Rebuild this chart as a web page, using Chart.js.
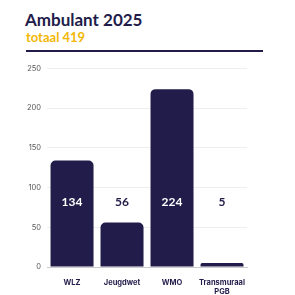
<html lang="en">
<head>
    <meta charset="UTF-8">
    <title>Ambulant 2025</title>
    <script src="https://cdn.jsdelivr.net/npm/chart.js@4"></script>
    <style>
        body { margin: 0; width: 295px; height: 295px; background: #fff; position: relative; font-family: Lato, sans-serif; overflow: hidden; }
        #title { position: absolute; left: 25px; top: 9px; font-size: 17px; font-weight: 700; color: #221c4a; }
        #sub { position: absolute; left: 26px; top: 29px; font-size: 13px; font-weight: 700; color: #f2b705; }
        #rule { position: absolute; left: 26px; top: 50px; width: 237px; height: 2px; background: #221c4a; }
        #wrap { position: absolute; left: 21px; top: 58px; width: 227px; height: 241px; }
    </style>
</head>
<body>
    <div id="title">Ambulant 2025</div>
    <div id="sub">totaal 419</div>
    <div id="rule"></div>
    <div id="wrap"><canvas id="graph"></canvas></div>

    <script>
        const categories = ['WLZ', 'Jeugdwet', 'WMO', ['Transmuraal', 'PGB']];
        const counts = [134, 56, 224, 5];
        const yTicks = [0, 50, 100, 150, 200, 250];

        const navy = '#221c4a';

        // value labels, all on the same height
        const valueLabels = {
            id: 'valueLabels',
            afterDatasetsDraw(chart) {
                const ctx = chart.ctx;
                const y = chart.scales.y.getPixelForValue(82);
                chart.getDatasetMeta(0).data.forEach((bar, i) => {
                    ctx.save();
                    ctx.font = 'bold 12px Lato';
                    ctx.textAlign = 'center';
                    ctx.textBaseline = 'middle';
                    ctx.fillStyle = bar.y < y ? '#fff' : navy;
                    ctx.fillText(String(counts[i]), bar.x, y);
                    ctx.restore();
                });
            }
        };

        new Chart(document.getElementById('graph'), {
            type: 'bar',
            data: {
                labels: categories,
                datasets: [{
                    data: counts,
                    backgroundColor: navy,
                    borderRadius: { topLeft: 5, topRight: 5 },
                    borderSkipped: 'bottom',
                    barPercentage: 0.86,
                    categoryPercentage: 1
                }]
            },
            options: {
                responsive: true,
                maintainAspectRatio: false,
                animation: false,
                layout: { padding: { top: 3, right: 0 } },
                plugins: { legend: { display: false }, tooltip: { enabled: false } },
                scales: {
                    x: {
                        grid: { display: false },
                        border: { color: '#ccc' },
                        ticks: { color: navy, font: { family: 'Inter', size: 7.5, weight: 'bold' }, padding: 3, maxRotation: 0 }
                    },
                    y: {
                        min: 0,
                        max: 250,
                        afterBuildTicks(axis) { axis.ticks = yTicks.map(v => ({ value: v })); },
                        grid: { color: '#eeeeee', drawTicks: false },
                        border: { display: false },
                        ticks: { color: '#555', font: { family: 'Inter', size: 7.5 }, padding: 6 }
                    }
                }
            },
            plugins: [valueLabels]
        });
    </script>
</body>
</html>
